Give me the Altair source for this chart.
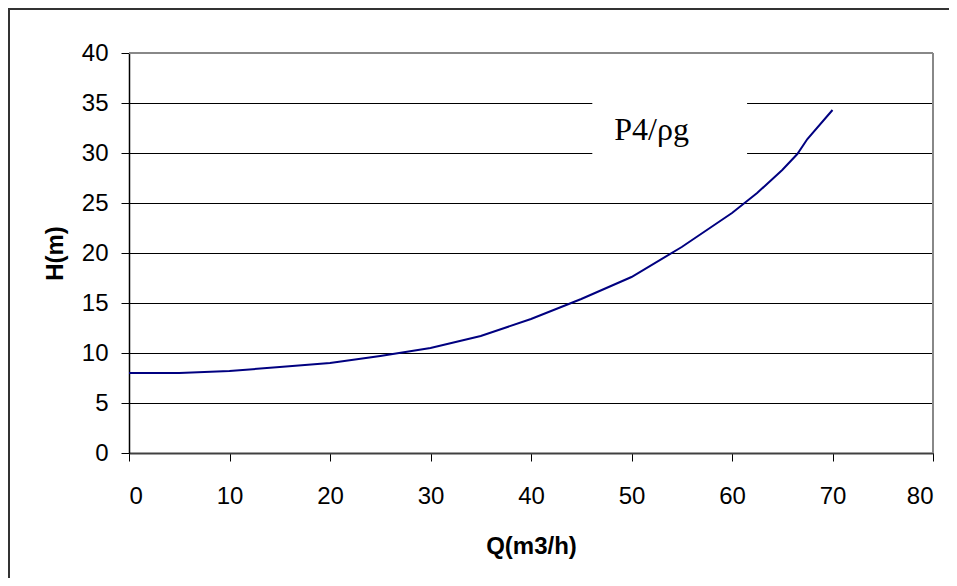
import altair as alt
import pandas as pd

# Curve P4/rho*g : flow Q (m3/h) vs head H (m)
q_vals = [0, 5, 10, 15, 20, 25, 30, 35, 40, 45, 50, 55, 60, 62.5, 65, 66.5, 67.5, 70]
h_vals = [8.0, 8.0, 8.2, 8.6, 9.0, 9.7, 10.5, 11.7, 13.4, 15.4, 17.6, 20.6, 24.0, 26.0, 28.3, 29.9, 31.4, 34.3]

label_text = ["P4/ρg"]
label_q = [52.0]
label_h = [31.3]
# white box behind the label (hides grid lines), in data units
box_q = [46.1, 61.5]
box_h = [27.5, 37.5]

x_ticks = [0, 10, 20, 30, 40, 50, 60, 70, 80]
y_ticks = [0, 5, 10, 15, 20, 25, 30, 35, 40]

df = pd.DataFrame({"Q": q_vals, "H": h_vals})
lab = pd.DataFrame({"t": label_text, "Q": label_q, "H": label_h})
box = pd.DataFrame({"q1": [box_q[0]], "q2": [box_q[1]], "h1": [box_h[0]], "h2": [box_h[1]]})

FONT = "Liberation Sans"

xscale = alt.Scale(domain=[0, 80], nice=False, zero=True)
yscale = alt.Scale(domain=[0, 40], nice=False, zero=True)

xaxis = alt.Axis(
    values=x_ticks, title="Q(m3/h)", grid=False,
    labelFont=FONT, labelFontSize=24, labelColor="#000",
    labelBaseline="alphabetic", labelPadding=42,
    tickSize=8, tickColor="#000", tickWidth=1,
    domainColor="#404040", domainWidth=2,
    titleFont=FONT, titleFontSize=24, titleFontWeight="bold", titleColor="#000",
    titleBaseline="alphabetic", titleY=100, titleX=402, titleAlign="center",
)
yaxis = alt.Axis(
    values=y_ticks, title="H(m)", grid=True, gridColor="#000", gridWidth=1,
    labelFont=FONT, labelFontSize=24, labelColor="#000",
    labelPadding=13, tickSize=8, tickColor="#000", tickWidth=1,
    domainColor="#000", domainWidth=1.5,
    titleFont=FONT, titleFontSize=24, titleFontWeight="bold", titleColor="#000",
    titleAngle=270, titleX=-74, titleY=200, titleAlign="center", titleBaseline="middle",
)

line = alt.Chart(df).mark_line(color="#000080", strokeWidth=2).encode(
    x=alt.X("Q:Q", scale=xscale, axis=xaxis),
    y=alt.Y("H:Q", scale=yscale, axis=yaxis),
)

whitebox = alt.Chart(box).mark_rect(fill="white").encode(
    x=alt.X("q1:Q", scale=xscale), x2="q2", y=alt.Y("h1:Q", scale=yscale), y2="h2"
)

text = alt.Chart(lab).mark_text(
    font="Liberation Serif", fontSize=32, color="#000", align="center", baseline="alphabetic"
).encode(x=alt.X("Q:Q", scale=xscale), y=alt.Y("H:Q", scale=yscale), text="t:N")

top_rule = alt.Chart(pd.DataFrame({"v": [40]})).mark_rule(color="#888", strokeWidth=2).encode(
    y=alt.Y("v:Q", scale=yscale)
)
right_rule = alt.Chart(pd.DataFrame({"v": [80]})).mark_rule(color="#888", strokeWidth=2).encode(
    x=alt.X("v:Q", scale=xscale)
)

# outer chart frame (only left and top edges are visible in the reference), as thin filled bars
frame_top = alt.Chart(pd.DataFrame({"a": [0]})).mark_rect(fill="#333", strokeWidth=0).encode(
    x=alt.value(-121), x2=alt.value(820), y=alt.value(-45), y2=alt.value(-43)
)
frame_left = alt.Chart(pd.DataFrame({"a": [0]})).mark_rect(fill="#333", strokeWidth=0).encode(
    x=alt.value(-121), x2=alt.value(-119), y=alt.value(-45), y2=alt.value(525)
)

chart = alt.layer(whitebox, top_rule, right_rule, line, text, frame_top, frame_left).properties(
    width=804, height=400,
    autosize=alt.AutoSizeParams(type="none"),
    padding={"left": 121, "top": 45, "right": 16, "bottom": 125},
    background="white",
).configure_view(stroke=None)

chart.save("out.html", embed_options={"renderer": "svg", "actions": False})
